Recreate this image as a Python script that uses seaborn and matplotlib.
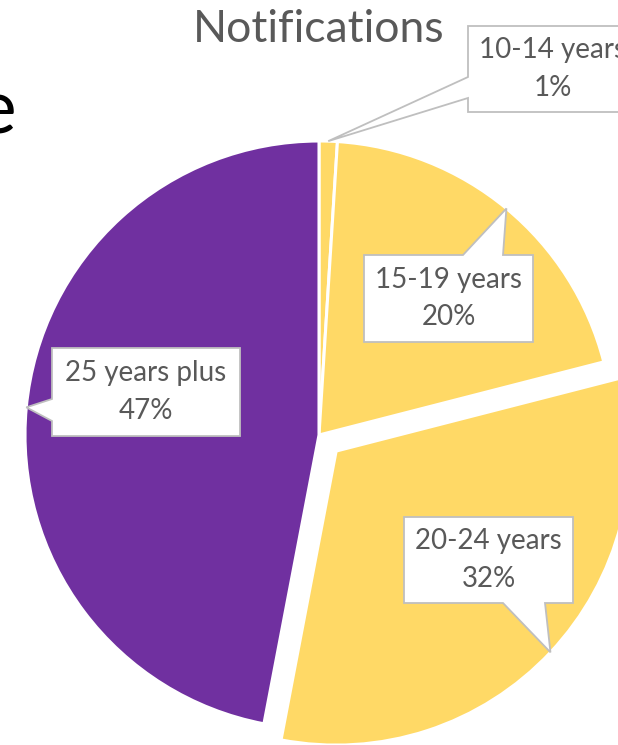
import numpy as np
import matplotlib
matplotlib.use("Agg")
import matplotlib.pyplot as plt
from matplotlib.patches import Polygon
import seaborn as sns

# data
age_groups = ["10-14 years", "15-19 years", "20-24 years", "25 years plus"]
shares = [1, 20, 32, 47]
slice_colors = ["#FFD966", "#FFD966", "#FFD966", "#7030A0"]
explode_frac = [0, 0, 0.08, 0]

# layout (pixel coords, measured from the top-left of the picture)
W, H = 618, 745
pie_center = (319, 435)
pie_radius = 294
# callout boxes: (x0, y0, x1, y1), side of the pointer, pointer base
boxes = [
    ((468, 26, 637, 112), "left", (77, 98)),
    ((364, 255, 533, 342), "top", (463, 503)),
    ((404, 517, 573, 603), "bottom", (503, 545)),
    ((52, 348, 240, 436), "left", (399, 421)),
]

sns.set_theme(style="white")
plt.rcParams["font.family"] = ["Lato", "DejaVu Sans"]

fig = plt.figure(figsize=(W / 100, H / 100), dpi=100)
ax = fig.add_axes([0, 0, 1, 1])

cx, cy = pie_center[0], H - pie_center[1]
wedges, _ = ax.pie(
    shares,
    colors=slice_colors,
    startangle=90,
    counterclock=False,
    center=(cx, cy),
    radius=pie_radius,
    explode=[e * pie_radius for e in explode_frac],
    wedgeprops=dict(edgecolor="white", linewidth=2.2),
)
ax.set_xlim(0, W)
ax.set_ylim(0, H)
ax.set_aspect("equal")
ax.axis("off")


def callout(box, side, base, tip):
    x0, y0, x1, y1 = box
    y0, y1 = H - y0, H - y1  # top, bottom in data coords
    if side == "left":
        b0, b1 = H - base[0], H - base[1]
        pts = [(x0, y0), (x1, y0), (x1, y1), (x0, y1), (x0, b1), tip, (x0, b0)]
    elif side == "top":
        pts = [(x0, y0), (base[0], y0), tip, (base[1], y0), (x1, y0), (x1, y1), (x0, y1)]
    else:
        pts = [(x0, y0), (x1, y0), (x1, y1), (base[1], y1), tip, (base[0], y1), (x0, y1)]
    ax.add_patch(Polygon(pts, closed=True, facecolor="white",
                         edgecolor="#BFBFBF", linewidth=1.3, zorder=5))


for w, name, val, (box, side, base) in zip(wedges, age_groups, shares, boxes):
    tm = np.deg2rad((w.theta1 + w.theta2) / 2)
    tip = (w.center[0] + w.r * np.cos(tm), w.center[1] + w.r * np.sin(tm))
    callout(box, side, base, tip)
    x0, y0, x1, y1 = box
    mx = (x0 + x1) / 2
    my = H - (y0 + y1) / 2
    ax.text(mx, my, f"{name}\n{val}%", ha="center", va="center",
            fontsize=20, color="#595959", linespacing=1.55, zorder=6)

ax.text(319, H - 42, "Notifications", ha="center", va="baseline",
        fontsize=32, color="#595959")
ax.text(16, H - 133, "e", ha="right", va="baseline", fontsize=54, color="black")

fig.savefig("out.png", dpi=100)
